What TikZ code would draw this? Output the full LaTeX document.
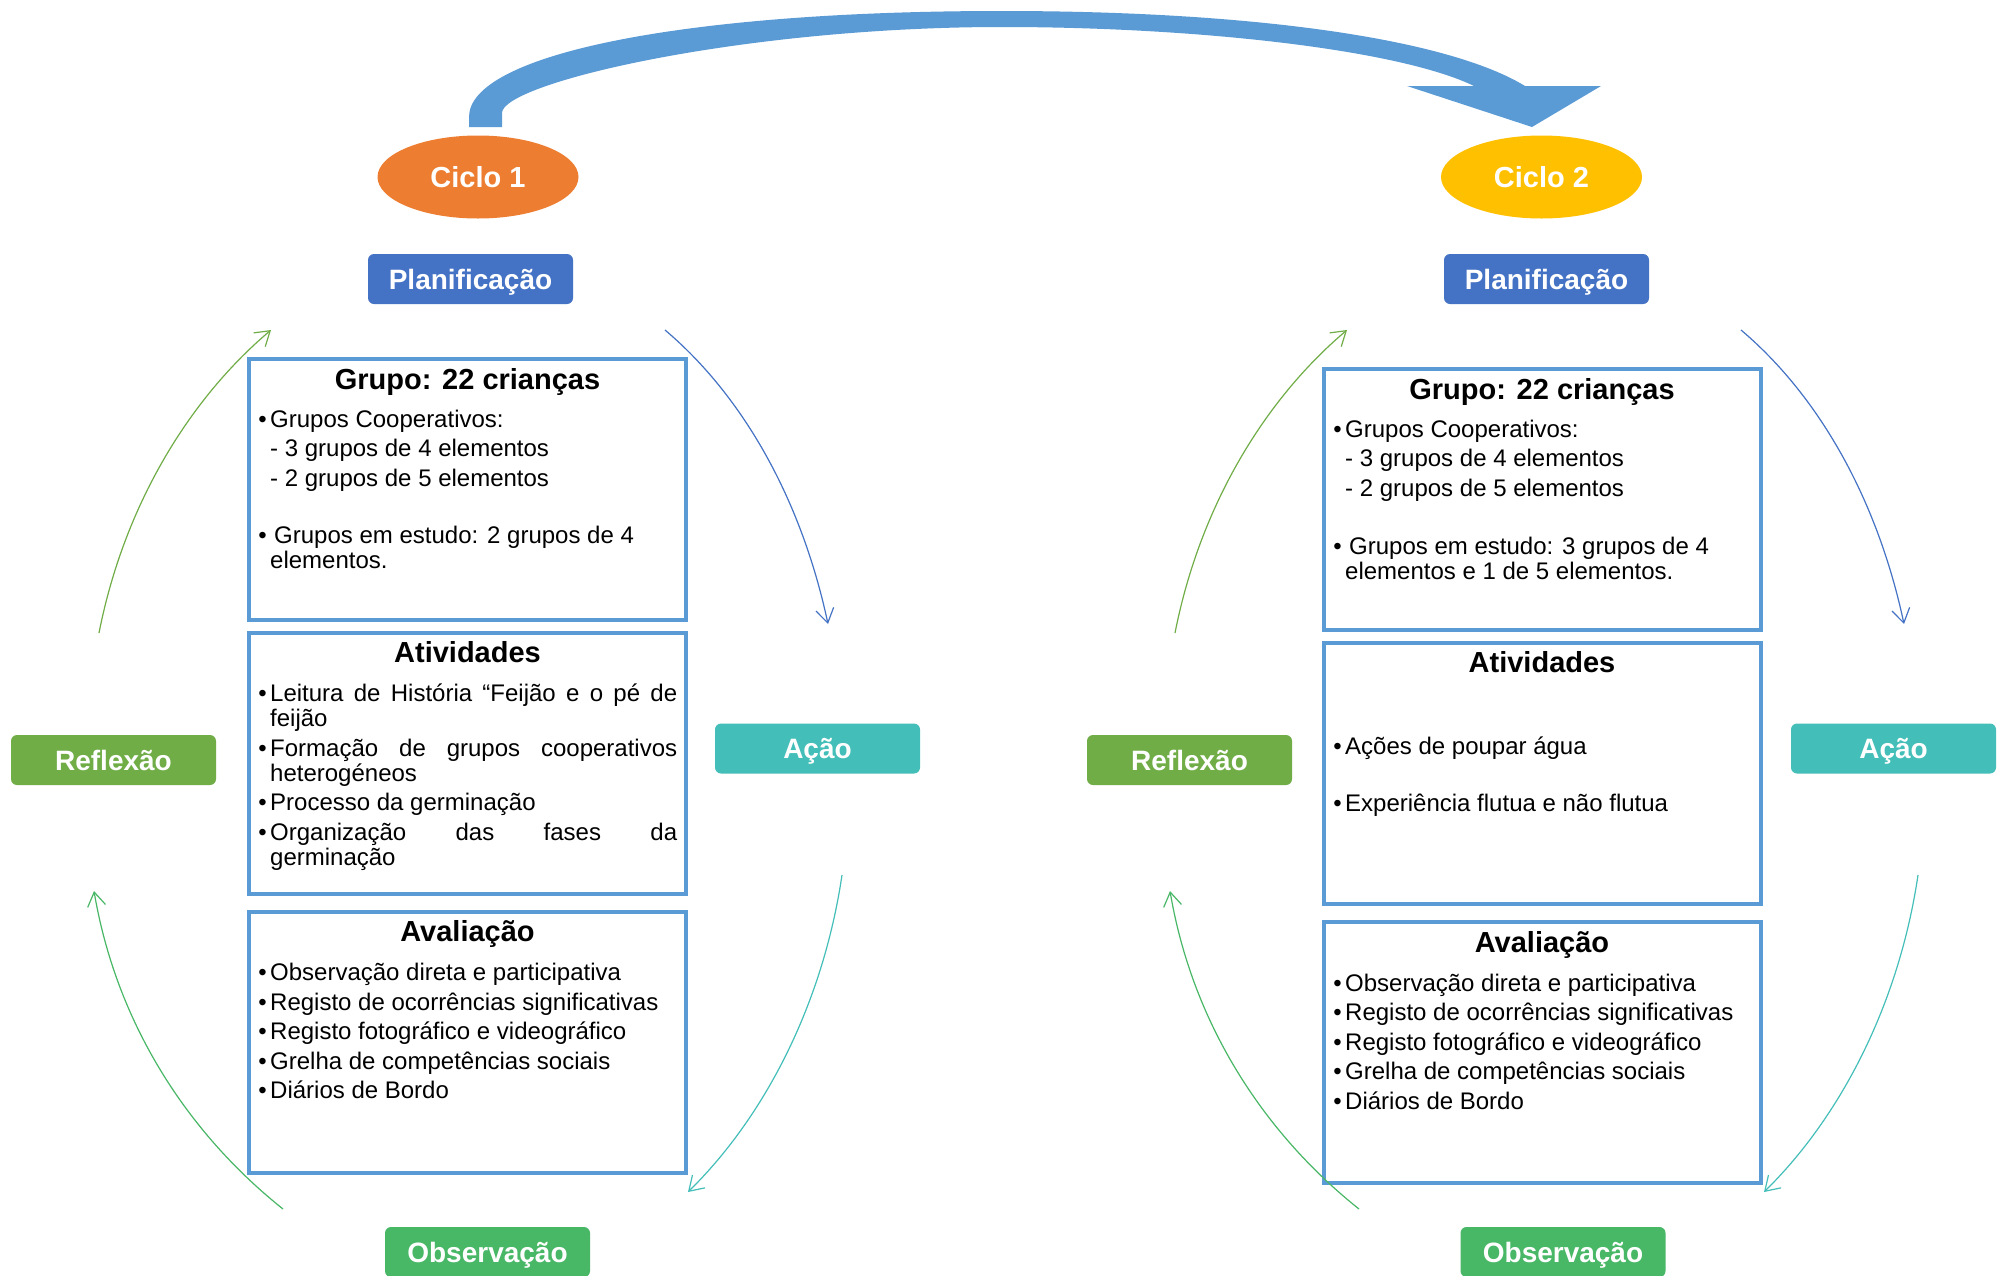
\documentclass[tikz,border=0pt]{standalone}
\usepackage{fontspec}
\setmainfont{Liberation Sans}
\usetikzlibrary{arrows.meta,shapes.geometric}
\definecolor{cBlue}{HTML}{4472C4}
\definecolor{cBorder}{HTML}{5B9BD5}
\definecolor{cOrange}{HTML}{ED7D31}
\definecolor{cYellow}{HTML}{FFC000}
\definecolor{cGreenA}{HTML}{70AD47}
\definecolor{cGreenB}{HTML}{48B766}
\definecolor{cTeal}{HTML}{44BEB8}
\newcommand\bodyfont{\fontsize{24}{25}\selectfont\setlength\parskip{4.5pt}\hyphenpenalty=10000 \exhyphenpenalty=10000 \tolerance=10000 \hbadness=10000 }
\newcommand\itm{\par\leavevmode\llap{•\hspace{3.5pt}}}
\begin{document}
\begin{tikzpicture}[x=1pt,y=-1pt,
  lab/.style={rounded corners=6pt, minimum width=205pt, minimum height=50pt, text=white,
    font=\fontsize{28}{30}\selectfont\bfseries, text height=20pt, text depth=0pt, inner sep=0pt},
  ell/.style={ellipse, minimum width=201pt, minimum height=83pt, text=white,
    font=\fontsize{29}{30}\selectfont\bfseries, text height=20.5pt, text depth=0pt, inner sep=0pt},
  box/.style={draw=cBorder, line width=4pt, minimum width=437pt, minimum height=261pt, inner sep=0pt},
  ttl/.style={anchor=base, font=\fontsize{29}{30}\selectfont\bfseries, inner sep=0pt},
  body/.style={anchor=base west, inner sep=0pt},
  cyc/.style={line width=1.2pt, -{Straight Barb[length=14pt,width=18pt]}}
]
\fill[white] (0,0) rectangle (2000,1275);
\useasboundingbox (0,0) rectangle (2000,1275);

% big curved arrow
\fill[cBorder] (469,127) -- (469,117) .. controls (469,55) and (680,11) .. (1002,11)
  .. controls (1260,11) and (1450,40) .. (1525,86) -- (1601,86) -- (1532,127) -- (1407,86) -- (1474,86)
  .. controls (1400,50) and (1200,27) .. (1002,27) .. controls (742,27) and (502,83) .. (502,113)
  -- (502,127) -- cycle;

% ---------- Cycle 1 ----------
\node[ell, fill=cOrange] (ciclo1) at (478,177) {Ciclo 1};
\node[lab, fill=cBlue] (plan1) at (470.5,279) {Planificação};
\node[lab, fill=cGreenA] (refl1) at (113.5,760) {Reflexão};
\node[lab, fill=cTeal] (acao1) at (817.5,748.5) {Ação};
\node[lab, fill=cGreenB] (obs1) at (487.5,1252) {Observação};

\node[box] (grp1) at (467.5,489.5) {};
\node[box] (atv1) at (467.5,763.5) {};
\node[box] (ava1) at (467.5,1042) {};

\node[ttl] (grp1t) at (467.5,389) {Grupo: 22 crianças};
\node[ttl] (atv1t) at (467.5,662.5) {Atividades};
\node[ttl] (ava1t) at (467.5,941.5) {Avaliação};

\node[body] (grp1b) at (270,427) {\parbox[t]{407pt}{\bodyfont\raggedright
  \itm Grupos Cooperativos:\par
  - 3 grupos de 4 elementos\par
  - 2 grupos de 5 elementos\par
  \vspace{27.5pt}%
  \itm\hspace{4pt}Grupos em estudo: 2 grupos de 4\\elementos.}};
\node[body] (atv1b) at (270,701.5) {\parbox[t]{407pt}{\bodyfont
  \itm Leitura de História “Feijão e o pé de\linebreak feijão
  \itm Formação de grupos cooperativos\linebreak heterogéneos
  \itm Processo da germinação
  \itm Organização das fases da\linebreak germinação}};
\node[body] (ava1b) at (270,980.5) {\parbox[t]{407pt}{\bodyfont\raggedright
  \itm Observação direta e participativa
  \itm Registo de ocorrências significativas
  \itm Registo fotográfico e videográfico
  \itm Grelha de competências sociais
  \itm Diários de Bordo}};

\coordinate (a1s) at (665,330);  \coordinate (a1e) at (828,624);
\coordinate (a2s) at (842,875);  \coordinate (a2e) at (688,1192);
\coordinate (a3s) at (283,1209); \coordinate (a3e) at (94,891);
\coordinate (a4s) at (99,633);   \coordinate (a4e) at (271,330);
\draw[cyc, cBlue]   (a1s) .. controls +(79.3,67.1) and +(-26.3,-122.8) .. (a1e);
\draw[cyc, cTeal]   (a2s) .. controls +(-19,128.1) and +(77.4,-76.1) .. (a2e);
\draw[cyc, cGreenB] (a3s) .. controls +(-89.9,-71.6) and +(23.7,138.9) .. (a3e);
\draw[cyc, cGreenA] (a4s) .. controls +(25.1,-127.6) and +(-81.9,69.2) .. (a4e);

% ---------- Cycle 2 ----------
\node[ell, fill=cYellow] (ciclo2) at (1541.5,177) {Ciclo 2};
\node[lab, fill=cBlue] (plan2) at (1546.5,279) {Planificação};
\node[lab, fill=cGreenA] (refl2) at (1189.5,760) {Reflexão};
\node[lab, fill=cTeal] (acao2) at (1893.5,748.5) {Ação};
\node[lab, fill=cGreenB] (obs2) at (1563,1252) {Observação};

\node[box] (grp2) at (1542,499.5) {};
\node[box] (atv2) at (1542,773.5) {};
\node[box] (ava2) at (1542,1052.5) {};

\node[ttl] (grp2t) at (1542,399.5) {Grupo: 22 crianças};
\node[ttl] (atv2t) at (1542,672.5) {Atividades};
\node[ttl] (ava2t) at (1542,952) {Avaliação};

\node[body] (grp2b) at (1345,437) {\parbox[t]{407pt}{\bodyfont\raggedright
  \itm Grupos Cooperativos:\par
  - 3 grupos de 4 elementos\par
  - 2 grupos de 5 elementos\par
  \vspace{28.5pt}%
  \itm\hspace{4pt}Grupos em estudo: 3 grupos de 4\\elementos e 1 de 5 elementos.}};
\node[body] (atv2b) at (1345,754) {\parbox[t]{407pt}{\bodyfont\raggedright
  \itm Ações de poupar água\par
  \vspace{28pt}%
  \itm Experiência flutua e não flutua}};
\node[body] (ava2b) at (1345,991) {\parbox[t]{407pt}{\bodyfont\raggedright
  \itm Observação direta e participativa
  \itm Registo de ocorrências significativas
  \itm Registo fotográfico e videográfico
  \itm Grelha de competências sociais
  \itm Diários de Bordo}};

\coordinate (b1s) at (1741,330);  \coordinate (b1e) at (1904,624);
\coordinate (b2s) at (1918,875);  \coordinate (b2e) at (1764,1192);
\coordinate (b3s) at (1359,1209); \coordinate (b3e) at (1170,891);
\coordinate (b4s) at (1175,633);  \coordinate (b4e) at (1347,330);
\draw[cyc, cBlue]   (b1s) .. controls +(79.3,67.1) and +(-26.3,-122.8) .. (b1e);
\draw[cyc, cTeal]   (b2s) .. controls +(-19,128.1) and +(77.4,-76.1) .. (b2e);
\draw[cyc, cGreenB] (b3s) .. controls +(-89.9,-71.6) and +(23.7,138.9) .. (b3e);
\draw[cyc, cGreenA] (b4s) .. controls +(25.1,-127.6) and +(-81.9,69.2) .. (b4e);
\end{tikzpicture}
\end{document}
